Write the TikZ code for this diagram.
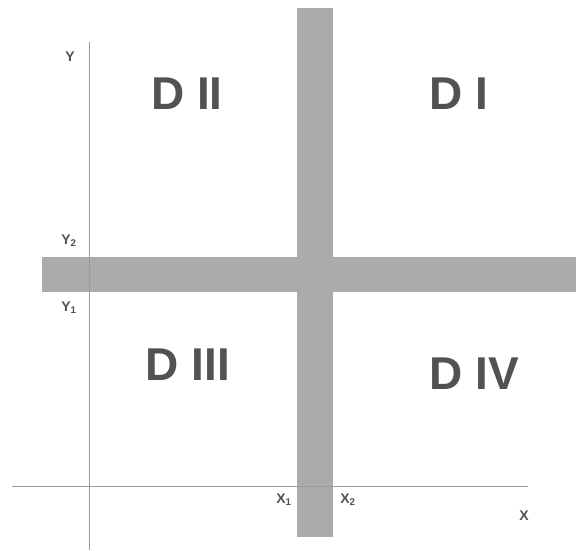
\documentclass[tikz,border=0pt]{standalone}
\usepackage{fontspec}
\setmainfont{Liberation Sans}
\usepackage{xcolor}
\usepackage{tikz}
\usetikzlibrary{positioning,calc}
\definecolor{band}{HTML}{ABABAB}
\definecolor{axis}{HTML}{9A9A9A}
\definecolor{ink}{HTML}{525252}

\begin{document}
\begin{tikzpicture}[x=1pt,y=-1pt,
  strip/.style={fill=band,draw=none},
  axisline/.style={draw=axis,line width=0.8pt},
  zone/.style={text=ink,font=\fontsize{46}{46}\selectfont\bfseries,inner sep=0pt},
  tick/.style={text=ink,font=\fontsize{14}{14}\selectfont\bfseries,inner sep=0pt}]
  \useasboundingbox (0,0) rectangle (576,551);
  % bands
  \fill[strip] (297,8) rectangle (333,537);
  \fill[strip] (42,257) rectangle (576,292);
  % axes
  \coordinate (ytop) at (89,42);
  \coordinate (ybot) at (89,550);
  \coordinate (xleft) at (12,486);
  \coordinate (xright) at (528,486);
  \draw[axisline] (ytop) -- (ybot);
  \draw[axisline] (xleft) -- (xright);
  % axis labels
  \node[tick] (ylab) at (70,57) {Y};
  \node[tick] (y2) at (69,241) {Y\textsubscript{2}};
  \node[tick] (y1) at (69,308) {Y\textsubscript{1}};
  \node[tick] (x1) at (284,500) {X\textsubscript{1}};
  \node[tick] (x2) at (348,500) {X\textsubscript{2}};
  \node[tick] (xlab) at (524,516) {X};
  % zones
  \node[zone] (d2) at (187,94) {D II};
  \node[zone] (d1) at (459,94) {D I};
  \node[zone] (d3) at (188,365) {D III};
  \node[zone] (d4) at (474,374) {D IV};
\end{tikzpicture}
\end{document}
